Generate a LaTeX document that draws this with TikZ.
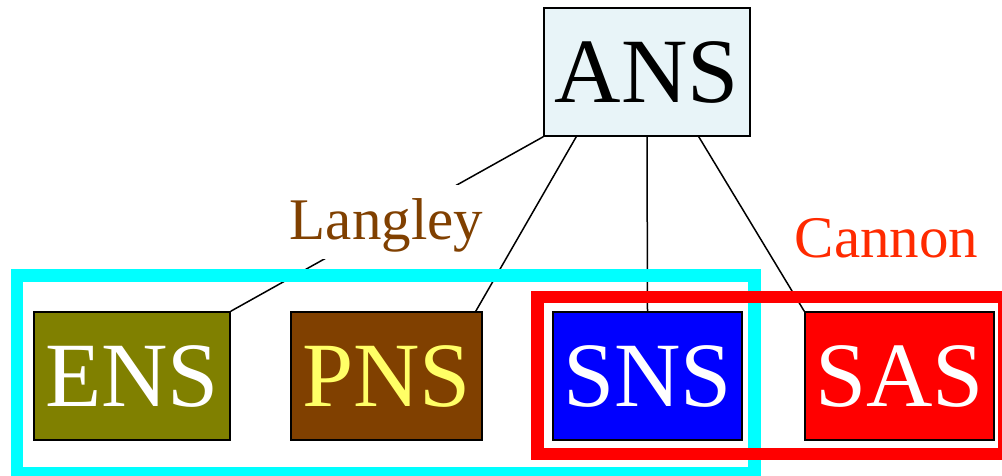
\documentclass[tikz,border=0pt]{standalone}
\usepackage{fontspec}
\setmainfont{Liberation Serif}
\definecolor{ansfill}{HTML}{E8F4F8}
\definecolor{ensfill}{HTML}{808000}
\definecolor{pnsfill}{HTML}{804000}
\definecolor{pnstext}{HTML}{FFFF66}
\definecolor{cannontext}{HTML}{FF2A00}
\definecolor{langleybox}{HTML}{00FFFF}
\definecolor{cannonbox}{HTML}{FF0000}

\begin{document}
\begin{tikzpicture}[x=1pt,y=-1pt]
\tikzstyle{sys}=[draw,line width=1.5pt,minimum height=128pt,inner sep=0pt,font=\fontsize{92}{92}\selectfont];
\tikzstyle{tag}=[inner sep=0pt,font=\fontsize{59}{59}\selectfont];
\tikzstyle{group}=[line width=12.5pt];
\useasboundingbox (0,0) rectangle (1002,476);
\node[sys,fill=ansfill,minimum width=206pt] (ANS) at (647,72) {ANS};
\node[sys,fill=ensfill,text=white,minimum width=196pt] (ENS) at (132,376) {ENS};
\node[sys,fill=pnsfill,text=pnstext,minimum width=191pt] (PNS) at (386.5,376) {PNS};
\node[sys,fill=blue,text=white,minimum width=189pt] (SNS) at (647.5,376) {SNS};
\node[sys,fill=red,text=white,minimum width=189pt] (SAS) at (899.5,376) {SAS};
\draw[line width=1.5pt] (ANS.south west) -- (ENS.north east);
\draw[line width=1.5pt] ([xshift=33pt]ANS.south west) -- ([xshift=-7pt]PNS.north east);
\draw[line width=1.5pt] (ANS.south) -- (SNS.north);
\draw[line width=1.5pt] ([xshift=-52pt]ANS.south east) -- (SAS.north west);
\node[tag,fill=white,text=pnsfill,inner sep=2pt,text height=53pt,text depth=17pt,anchor=base] (langley) at (386.5,240) {Langley};
\node[tag,text=cannontext,anchor=base] (cannon) at (886.5,258) {Cannon};
\draw[group,langleybox] (17,275.5) rectangle (754.5,473);
\draw[group,cannonbox] (537.5,297) rectangle (1004,454);
\end{tikzpicture}
\end{document}
